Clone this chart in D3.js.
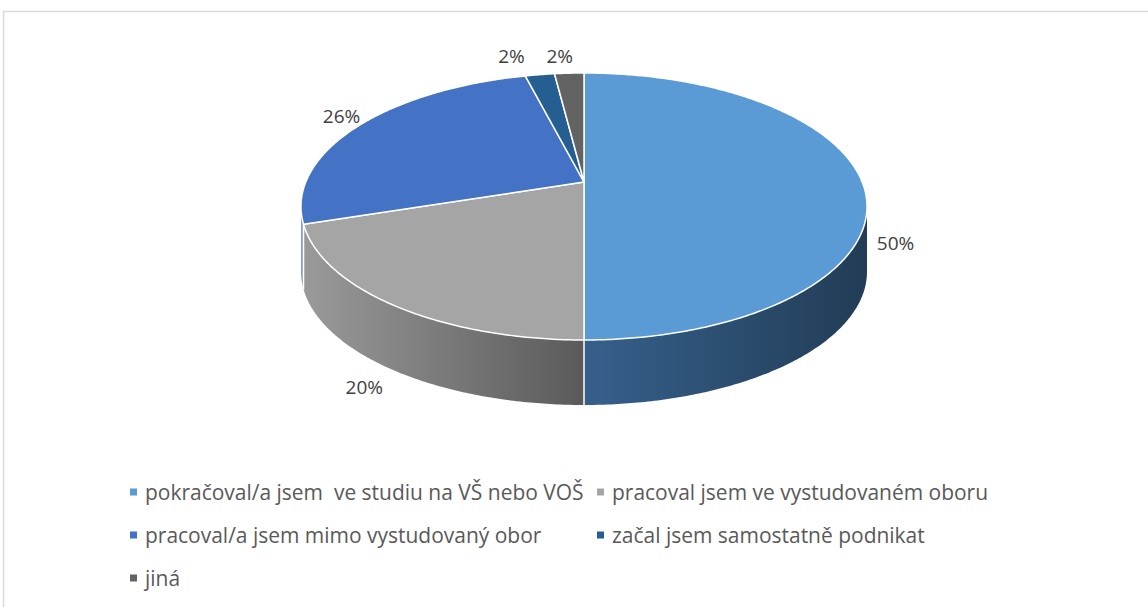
<!DOCTYPE html>
<html><head><meta charset="utf-8">
<script src="https://cdn.jsdelivr.net/npm/d3@7"></script>
<style>
body{margin:0;background:#fff}
svg{display:block}
text{font-family:"Open Sans",sans-serif}
</style>
</head><body>
<svg id="c" width="1148" height="607"></svg>
<script>
const categories = [
  "pokračoval/a jsem  ve studiu na VŠ nebo VOŠ",
  "pracoval jsem ve vystudovaném oboru",
  "pracoval/a jsem mimo vystudovaný obor",
  "začal jsem samostatně podnikat",
  "jiná"
];
const values = [50, 20, 26, 2, 2];
const valueLabels = ["50%", "20%", "26%", "2%", "2%"];

const colors = ["#5B9BD5", "#A5A5A5", "#4472C4", "#255E91", "#636363"];
const sideColors = [["#36608c", "#223c55"], ["#9a9a9a", "#5a5a5a"], ["#8a9cbc", "#8a9cbc"], ["#1d4a72", "#1d4a72"], ["#4e4e4e", "#4e4e4e"]];

const svg = d3.select("#c");
const W = 1148, H = 607;

// frame
svg.append("path").attr("d", `M3.5,${H} V11.5 H${W}`).attr("fill", "none").attr("stroke", "#d9d9d9").attr("stroke-width", 1.5);

// perspective projection of unit disk
const cx = 584, cy = 182, A = 278.2, B = 129, k = 0.1835, depth = 65;
function proj(theta, r) {
  const x = r * Math.sin(theta), d = r * Math.cos(theta);
  const den = 1 + k * d;
  return [cx + A * x / den, cy - B * d / den];
}
function arcPoints(a0, a1, r) {
  const n = Math.max(2, Math.ceil((a1 - a0) / 0.01));
  return d3.range(n + 1).map(i => proj(a0 + (a1 - a0) * i / n, r));
}

const pie = d3.pie().sort(null).value(d => d);
const arcs = pie(values);
const line = d3.line();
const defs = svg.append("defs");

// side walls (visible front arc)
const tR = Math.acos(-k), tL = 2 * Math.PI - Math.acos(-k);
const gWalls = svg.append("g");
arcs.forEach((a, i) => {
  const s = Math.max(a.startAngle, tR), e = Math.min(a.endAngle, tL);
  if (e <= s) return;
  const top = arcPoints(s, e, 1);
  const bottom = top.map(p => [p[0], p[1] + depth]).reverse();
  const xs = top.map(p => p[0]);
  const gid = "wall" + i;
  const g = defs.append("linearGradient").attr("id", gid).attr("gradientUnits", "userSpaceOnUse")
    .attr("x1", d3.min(xs)).attr("x2", d3.max(xs)).attr("y1", 0).attr("y2", 0);
  g.append("stop").attr("offset", 0).attr("stop-color", sideColors[i][0]);
  g.append("stop").attr("offset", 1).attr("stop-color", sideColors[i][1]);
  gWalls.append("path").attr("d", line(top.concat(bottom)) + "Z").attr("fill", `url(#${gid})`);
});
// dividers on walls
arcs.forEach(a => {
  const t = a.startAngle;
  if (t > tR && t < tL) {
    const p = proj(t, 1);
    gWalls.append("line").attr("x1", p[0]).attr("y1", p[1]).attr("x2", p[0]).attr("y2", p[1] + depth)
      .attr("stroke", "#fff").attr("stroke-width", 1.5);
  }
});

// top faces
svg.append("g").selectAll("path").data(arcs).join("path")
  .attr("d", a => line([[cx, cy]].concat(arcPoints(a.startAngle, a.endAngle, 1))) + "Z")
  .attr("fill", (a, i) => colors[i])
  .attr("stroke", "#fff").attr("stroke-width", 1.5).attr("stroke-linejoin", "round");

// data labels
const labelNudge = [[0, -4], [0, 0], [6, -3], [-24, -8], [-8, -6]];
svg.append("g").selectAll("text").data(arcs).join("text")
  .attr("x", (a, i) => proj((a.startAngle + a.endAngle) / 2, 1.12)[0] + labelNudge[i][0])
  .attr("y", (a, i) => {
    const m = (a.startAngle + a.endAngle) / 2;
    return proj(m, 1.12)[1] + (Math.cos(m) < 0.01 ? depth : 0) + labelNudge[i][1];
  })
  .attr("text-anchor", "middle").attr("dominant-baseline", "central")
  .attr("font-size", 19).attr("fill", "#404040")
  .text((a, i) => valueLabels[i]);

// legend
const leg = svg.append("g");
const colX = [130, 597], rowY = [492, 535, 578];
const items = categories.map((c, i) => ({c, i, col: i % 2, row: Math.floor(i / 2)}));
const gi = leg.selectAll("g").data(items).join("g")
  .attr("transform", d => `translate(${colX[d.col]},${rowY[d.row]})`);
gi.append("rect").attr("x", 0).attr("y", -3.5).attr("width", 7).attr("height", 7).attr("fill", d => colors[d.i]);
const tx = gi.append("text").attr("x", 15).attr("y", 0).attr("dominant-baseline", "central")
  .attr("fill", "#595959").style("white-space", "pre").attr("font-size", 18).text(d => d.c);
const w0 = tx.nodes()[0].getComputedTextLength();
const fs = 18 * 439 / w0;
tx.attr("font-size", fs);
</script>
</body></html>
